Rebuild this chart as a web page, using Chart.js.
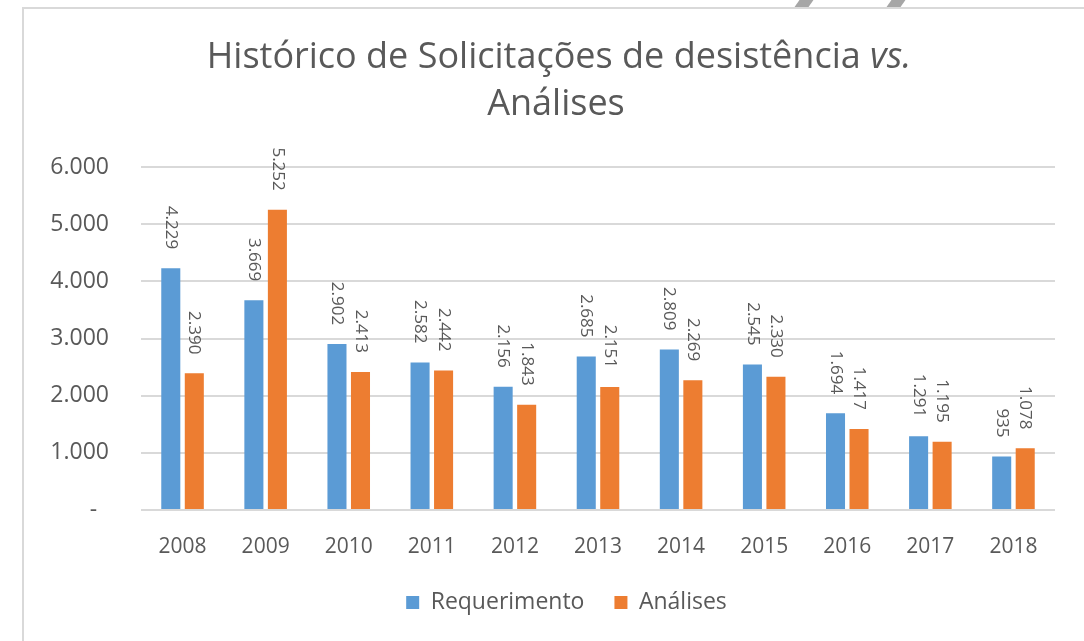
<!DOCTYPE html>
<html lang="pt">

<head>
    <meta charset="UTF-8">
    <title>Histórico de Solicitações de desistência vs. Análises</title>
    <script src="https://cdn.jsdelivr.net/npm/chart.js"></script>
    <style>
        body { margin: 0; background: #ffffff; overflow: hidden; }
        #wrap { position: relative; width: 1084px; height: 641px; }
        #frame { position: absolute; left: 22px; top: 7px; width: 1100px; height: 700px;
                 border-top: 2px solid #d9d9d9; border-left: 2px solid #d9d9d9; }
        .mark { position: absolute; top: 0; height: 7px; width: 14px; background: #a6a6a6; transform: skewX(-35deg); }
        canvas { position: absolute; left: 0; top: 0; }
    </style>
</head>

<body>
    <div id="wrap">
        <div id="frame"></div>
        <div class="mark" style="left: 797px;"></div>
        <div class="mark" style="left: 889px;"></div>
        <canvas id="barChart" width="1084" height="641"></canvas>
    </div>

    <script>
        const anos = ['2008', '2009', '2010', '2011', '2012', '2013', '2014', '2015', '2016', '2017', '2018'];
        const requerimento = [4229, 3669, 2902, 2582, 2156, 2685, 2809, 2545, 1694, 1291, 935];
        const analises = [2390, 5252, 2413, 2442, 1843, 2151, 2269, 2330, 1417, 1195, 1078];
        const tituloLinha1 = 'Histórico de Solicitações de desistência ';
        const tituloItalico = 'vs.';
        const tituloLinha2 = 'Análises';

        const fonte = '"Open Sans", "Noto Sans", sans-serif';
        const cinza = '#595959';

        function formatar(v) {
            if (v === 0) return '-  ';
            return v.toLocaleString('de-DE');
        }

        // title with the italic "vs."
        const tituloPlugin = {
            id: 'tituloPlugin',
            afterDraw(chart) {
                const ctx = chart.ctx;
                const cx = 559;
                ctx.save();
                ctx.fillStyle = cinza;
                ctx.textBaseline = 'middle';
                ctx.textAlign = 'left';
                const fNormal = '36px ' + fonte;
                const fItal = 'italic 36px ' + fonte;
                ctx.font = fNormal;
                const w1 = ctx.measureText(tituloLinha1).width;
                ctx.font = fItal;
                const w2 = ctx.measureText(tituloItalico).width;
                let x = cx - (w1 + w2) / 2;
                ctx.font = fNormal;
                ctx.fillText(tituloLinha1, x, 58);
                ctx.font = fItal;
                ctx.fillText(tituloItalico, x + w1, 58);
                ctx.font = fNormal;
                ctx.textAlign = 'center';
                ctx.fillText(tituloLinha2, cx - 3, 105);
                ctx.restore();
            }
        };

        // rotated value labels above each bar
        const rotulosPlugin = {
            id: 'rotulosPlugin',
            afterDatasetsDraw(chart) {
                const ctx = chart.ctx;
                ctx.save();
                ctx.fillStyle = cinza;
                ctx.font = '17px ' + fonte;
                ctx.textAlign = 'right';
                ctx.textBaseline = 'middle';
                chart.data.datasets.forEach((ds, i) => {
                    chart.getDatasetMeta(i).data.forEach((bar, j) => {
                        ctx.save();
                        ctx.translate(bar.x, bar.y - 19);
                        ctx.rotate(Math.PI / 2);
                        ctx.fillText(formatar(ds.data[j]), 0, 0);
                        ctx.restore();
                    });
                });
                ctx.restore();
            }
        };

        // legend sits a bit right of the plot centre in the original
        const legendaPlugin = {
            id: 'legendaPlugin',
            afterLayout(chart) {
                chart.legend.left += 24;
                chart.legend.right += 24;
            }
        };

        const ctx = document.getElementById('barChart').getContext('2d');
        const chart = new Chart(ctx, {
            type: 'bar',
            data: {
                labels: anos,
                datasets: [
                    {
                        label: 'Requerimento',
                        data: requerimento,
                        backgroundColor: '#5b9bd5'
                    },
                    {
                        label: 'Análises',
                        data: analises,
                        backgroundColor: '#ed7d31'
                    }
                ]
            },
            options: {
                responsive: false,
                animation: false,
                categoryPercentage: 0.566,
                barPercentage: 0.81,
                layout: {
                    padding: { top: 167, left: 30, right: 29, bottom: 17 }
                },
                plugins: {
                    legend: {
                        position: 'bottom',
                        labels: {
                            boxWidth: 13,
                            boxHeight: 13,
                            padding: 30,
                            color: cinza,
                            font: { family: fonte, size: 23 }
                        }
                    },
                    title: { display: false },
                    tooltip: { enabled: false }
                },
                scales: {
                    x: {
                        grid: { display: false },
                        border: { display: false },
                        ticks: {
                            color: cinza,
                            padding: 16,
                            font: { family: fonte, size: 21 }
                        },
                        afterFit(scale) { scale.height = 51; }
                    },
                    y: {
                        min: 0,
                        max: 6000,
                        grid: { color: '#d9d9d9', lineWidth: 2, drawTicks: false },
                        border: { display: false },
                        ticks: {
                            stepSize: 1000,
                            color: cinza,
                            padding: 32,
                            font: { family: fonte, size: 23 },
                            callback: v => formatar(v)
                        },
                        afterFit(scale) { scale.width = 111; }
                    }
                }
            },
            plugins: [tituloPlugin, rotulosPlugin, legendaPlugin]
        });
    </script>
</body>

</html>
